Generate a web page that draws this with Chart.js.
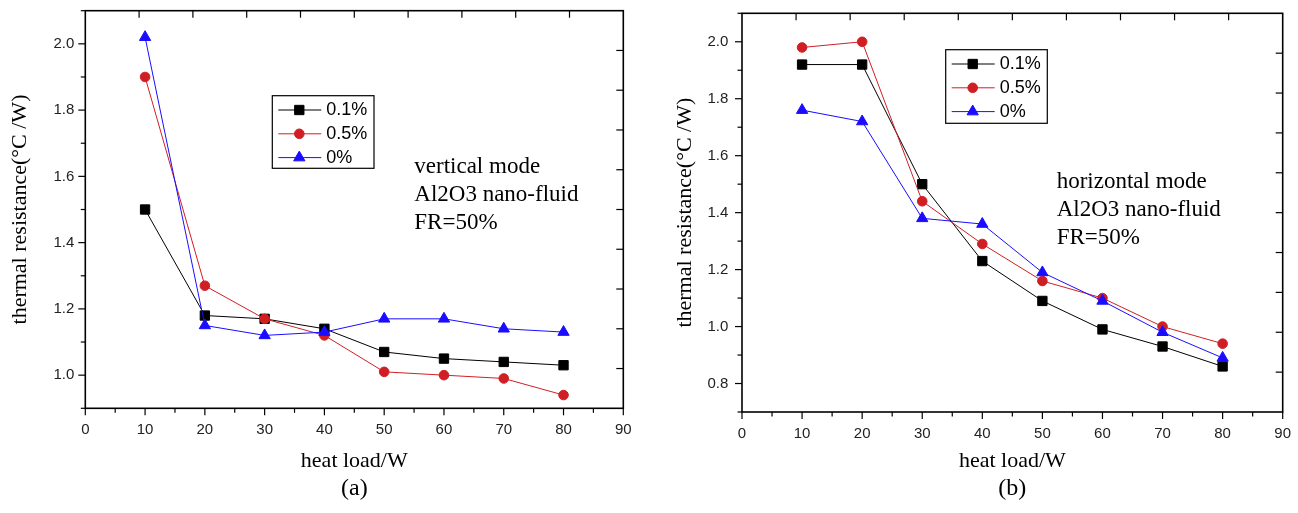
<!DOCTYPE html>
<html>
<head>
<meta charset="utf-8">
<script src="https://cdn.jsdelivr.net/npm/chart.js@4.4.1/dist/chart.umd.min.js"></script>
<style>
  html, body { margin: 0; padding: 0; background: #fff; }
  #wrap { position: relative; width: 1298px; height: 513px; }
  canvas { position: absolute; top: 0; }
</style>
</head>
<body>
<div id="wrap">
  <canvas id="chartA" width="649" height="513" style="left:0"></canvas>
  <canvas id="chartB" width="649" height="513" style="left:649px"></canvas>
</div>
<script>
const heatLoad = [10, 20, 30, 40, 50, 60, 70, 80];
const seriesLabels = ['0.1%', '0.5%', '0%'];

// (a) vertical mode
const vert01 = [1.50, 1.18, 1.17, 1.14, 1.07, 1.05, 1.04, 1.03];
const vert05 = [1.90, 1.27, 1.17, 1.12, 1.01, 1.00, 0.99, 0.94];
const vert00 = [2.02, 1.15, 1.12, 1.13, 1.17, 1.17, 1.14, 1.13];

// (b) horizontal mode
const horiz01 = [1.92, 1.92, 1.50, 1.23, 1.09, 0.99, 0.93, 0.86];
const horiz05 = [1.98, 2.00, 1.44, 1.29, 1.16, 1.10, 1.00, 0.94];
const horiz00 = [1.76, 1.72, 1.38, 1.36, 1.19, 1.09, 0.98, 0.89];

const xTicks = [0, 10, 20, 30, 40, 50, 60, 70, 80, 90];
const yTicksA = [1.0, 1.2, 1.4, 1.6, 1.8, 2.0];
const yTicksB = [0.8, 1.0, 1.2, 1.4, 1.6, 1.8, 2.0];

const notesA = ['vertical mode', 'Al2O3 nano-fluid', 'FR=50%'];
const notesB = ['horizontal mode', 'Al2O3 nano-fluid', 'FR=50%'];

const colors = ['#000000', '#d01f24', '#1a0dff'];
const styles = ['rect', 'circle', 'triangle'];
const radii = [6.6, 4.8, 6.5];

const SANS = '"Liberation Sans", Arial, sans-serif';
const SERIF = '"Liberation Serif", "Times New Roman", serif';

// frame, minor ticks, legend box and notes
const decor = {
  id: 'decor',
  afterDraw(chart, args, opts) {
    const {ctx, chartArea: a, scales: {x, y}} = chart;
    ctx.save();
    ctx.strokeStyle = '#000';
    ctx.lineWidth = 1.2;
    const seg = (x1, y1, x2, y2) => { ctx.beginPath(); ctx.moveTo(x1, y1); ctx.lineTo(x2, y2); ctx.stroke(); };

    // bottom axis: major every 10, minor every 5, outward
    for (let v = x.min; v <= x.max + 1e-9; v += 5) {
      const px = x.getPixelForValue(v);
      seg(px, a.bottom, px, a.bottom + (Math.round(v) % 10 === 0 ? 7 : 4.5));
    }
    // left axis: major every 0.2, minor every 0.1, outward
    for (let i = 0; ; i++) {
      const v = y.min + i * 0.1;
      if (v > y.max + 1e-9) break;
      const py = y.getPixelForValue(v);
      const major = Math.round(v * 10) % 2 === 0;
      seg(a.left - (major ? 7 : 4.5), py, a.left, py);
    }
    // top and right axes: 10 divisions, inward
    for (let i = 1; i < 10; i++) {
      const px = x.getPixelForValue(x.min + (x.max - x.min) * i / 10);
      seg(px, a.top, px, a.top + 7);
      const py = y.getPixelForValue(y.min + (y.max - y.min) * i / 10);
      seg(a.right - 7, py, a.right, py);
    }
    ctx.lineWidth = 1.6;
    ctx.strokeRect(a.left, a.top, a.right - a.left, a.bottom - a.top);

    // legend
    const lg = opts.legend;
    ctx.fillStyle = '#fff';
    ctx.fillRect(lg.left, lg.top, lg.width, lg.height);
    ctx.lineWidth = 1.2;
    ctx.strokeStyle = '#000';
    ctx.strokeRect(lg.left, lg.top, lg.width, lg.height);
    ctx.font = '18px ' + SANS;
    ctx.textBaseline = 'middle';
    ctx.textAlign = 'left';
    chart.data.datasets.forEach((ds, i) => {
      const yy = lg.top + 14.3 + i * 23.8;
      ctx.strokeStyle = ds.borderColor;
      ctx.lineWidth = 1;
      seg(lg.left + 6, yy, lg.left + 49, yy);
      ctx.fillStyle = ds.backgroundColor;
      Chart.helpers.drawPoint(ctx, {pointStyle: ds.pointStyle, radius: ds.pointRadius, rotation: 0, borderWidth: 1}, lg.left + 27, yy);
      ctx.fillStyle = '#000';
      ctx.fillText(ds.label, lg.left + 54, yy);
    });

    // notes
    ctx.font = '23px ' + SERIF;
    ctx.fillStyle = '#000';
    opts.notes.forEach((t, i) => ctx.fillText(t, opts.noteX, opts.noteY + i * 28.3));

    // panel label
    ctx.font = '24px ' + SERIF;
    ctx.textAlign = 'center';
    ctx.fillText(opts.panel, (a.left + a.right) / 2, 489);
    ctx.restore();
  }
};

function makeChart(id, series, yMin, yTicks, box, legend, notes, noteX, noteY, panel) {
  const datasets = series.map((vals, i) => ({
    label: seriesLabels[i],
    data: heatLoad.map((h, k) => ({x: h, y: vals[k]})),
    borderColor: colors[i],
    backgroundColor: colors[i],
    borderWidth: 1,
    pointStyle: styles[i],
    pointRadius: radii[i],
    pointBorderWidth: 1,
    tension: 0,
    order: 3 - i,
    clip: false
  }));
  return new Chart(document.getElementById(id), {
    type: 'line',
    data: {datasets},
    options: {
      responsive: false,
      animation: false,
      devicePixelRatio: 1,
      layout: {padding: {left: 0, right: box.padRight, top: box.padTop, bottom: 0}},
      plugins: {
        legend: {display: false},
        tooltip: {enabled: false},
        decor: {legend, notes, noteX, noteY, panel}
      },
      scales: {
        x: {
          type: 'linear', min: 0, max: 90,
          afterBuildTicks: s => { s.ticks = xTicks.map(v => ({value: v})); },
          afterFit: s => { s.height = box.xHeight; s.paddingLeft = 0; s.paddingRight = 0; },
          grid: {display: false, drawTicks: false},
          border: {display: false},
          ticks: {color: '#222', font: {family: SANS, size: 15}, padding: 13, maxRotation: 0, autoSkip: false,
                  callback: v => String(v)},
          title: {display: true, text: 'heat load/W', color: '#000',
                  font: {family: SERIF, size: 22}, padding: {top: 0, bottom: 38.8}}
        },
        y: {
          type: 'linear', min: yMin, max: 2.1,
          afterBuildTicks: s => { s.ticks = yTicks.map(v => ({value: v})); },
          afterFit: s => { s.width = box.yWidth; s.paddingTop = 0; s.paddingBottom = 0; },
          grid: {display: false, drawTicks: false},
          border: {display: false},
          ticks: {color: '#222', font: {family: SANS, size: 15}, padding: box.yPad, autoSkip: false,
                  callback: v => Number(v).toFixed(1)},
          title: {display: true, text: 'thermal resistance(°C /W)', color: '#000',
                  font: {family: SERIF, size: 22}, padding: {top: box.yTitlePad, bottom: 0}}
        }
      }
    },
    plugins: [decor]
  });
}

makeChart('chartA', [vert01, vert05, vert00], 0.9, yTicksA,
  {padRight: 25.7, padTop: 10.7, xHeight: 104.7, yWidth: 85.3, yPad: 11, yTitlePad: 6.8},
  {left: 272.3, top: 95.7, width: 101.7, height: 72.6},
  notesA, 414.3, 166.7, '(a)');

makeChart('chartB', [horiz01, horiz05, horiz00], 0.7, yTicksB,
  {padRight: 15.3, padTop: 13.3, xHeight: 101, yWidth: 93, yPad: 13.7, yTitlePad: 22.8},
  {left: 296.7, top: 49.7, width: 101.6, height: 73.6},
  notesB, 407.7, 181.7, '(b)');
</script>
</body>
</html>
